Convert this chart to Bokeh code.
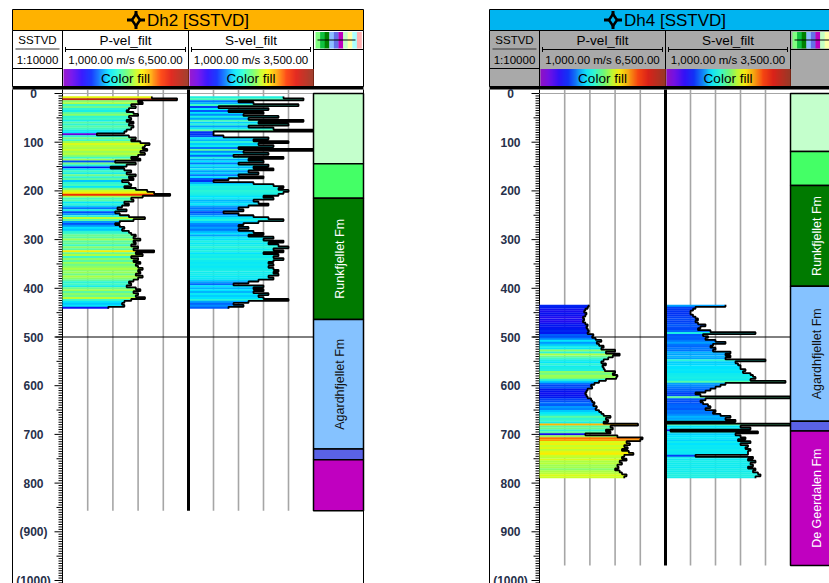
import numpy as np
from bokeh.plotting import figure
from bokeh.models import Range1d, ColumnDataSource
from bokeh.transform import linear_cmap
from bokeh.core.properties import value
from bokeh.embed import file_html
from bokeh.resources import INLINE

FONT = value("Liberation Sans")

# ---------------- log samples (SSTVD in m, velocities in m/s) ----------------
STEP = 4.0

dh2_first_depth = 8.0
dh2_p_vel = [
    4900, 6000, 4300, 4500, 4000, 4200, 3900, 3800, 4100, 4300,
    3900, 4000, 3800, 4100, 3900, 4100, 4000, 3800, 3700, 2500,
    3900, 4200, 4000, 4400, 4800, 4600, 4500, 4700, 4400, 4600,
    4300, 4000, 4400, 3300, 4200, 3800, 3100, 3700, 4000, 3800,
    4200, 3900, 4100, 3600, 3900, 4000, 3700, 4200, 4700, 5000,
    5700, 4500, 4000, 4100, 3700, 3900, 3600, 3400, 3800, 3300,
    3500, 3900, 4600, 4100, 3500, 3300, 3500, 3700, 3600, 3900,
    4000, 4200, 4100, 4400, 4100, 4200, 4000, 4300, 4100, 5000,
    4200, 4500, 4000, 4300, 4100, 4400, 4200, 4300, 4500, 4300,
    4400, 4200, 4500, 4300, 4100, 3900, 4000, 3800, 4200, 4400,
    4100, 4300, 4200, 4600, 4000, 3700, 3600, 3700, 3000,
]
dh2_s_vel = [
    2900, 3300, 2000, 2300, 3200, 1600, 2600, 1800, 2500, 2100,
    2800, 2200, 3300, 2400, 3000, 2200, 2700, 3500, 1500, 1500,
    1700, 2600, 2300, 3000, 2400, 2700, 2000, 3500, 2100, 2600,
    1900, 2900, 2200, 2500, 2000, 2600, 2300, 2700, 2200, 2400,
    2000, 2500, 1800, 1500, 2300, 2700, 2900, 2800, 3000, 2900,
    2800, 2500, 2700, 2300, 2400, 2600, 2200, 2000, 2100, 1700,
    2000, 2300, 2600, 2900, 2400, 2100, 2000, 2200, 2000, 2300,
    2500, 2200, 2700, 2500, 2900, 2600, 2800, 3000, 2700, 2900,
    2500, 2800, 2700, 2900, 2700, 2600, 2700, 2600, 2700, 2800,
    2700, 2800, 2600, 2700, 2400, 2200, 1900, 2500, 2300, 2500,
    2300, 2600, 2400, 2500, 3000, 2200, 1900, 2100, 1800,
]

dh4_first_depth = 436.0
dh4_p_vel = [
    3150, 3100, 3000, 2950, 3050, 3000, 2900, 2950, 2900, 3000,
    3100, 3050, 3100, 3150, 3100, 3350, 3300, 3450, 3700, 3500,
    3600, 3800, 3700, 4300, 3900, 4500, 4200, 4000, 3800, 3700,
    3900, 3750, 3800, 3850, 4300, 4200, 4400, 4350, 3900, 3600,
    3400, 3250, 3300, 3100, 3050, 3000, 3050, 3100, 3250, 3300,
    3400, 3350, 3500, 3450, 3600, 3700, 3800, 4100, 3900, 4000,
    3800, 5300, 4100, 4200, 3900, 4100, 3000, 4400, 5500, 5400,
    4800, 4950, 4700, 4850, 4600, 4900, 5100, 4700, 4600, 4800,
    4500, 4600, 4400, 4450, 4300, 4500, 4600, 4800, 4700,
]
dh4_s_vel = [
    2200, 1600, 1550, 1500, 1500, 1550, 1600, 1650, 1600, 1650,
    1800, 1700, 1650, 1900, 2800, 1750, 1850, 1800, 2000, 2200,
    1950, 1900, 2000, 1950, 2300, 2200, 2300, 2200, 3000, 2400,
    2450, 2500, 2500, 2600, 2550, 2700, 2750, 2800, 2700, 3400,
    2200, 2100, 2000, 1900, 1800, 1600, 1700, 3500, 1800, 1700,
    1750, 1850, 1900, 1800, 2000, 1950, 2100, 2300, 2200, 2400,
    1000, 3500, 2500, 2700, 1100, 2850, 2400, 2500, 2600, 2450,
    2700, 2500, 2650, 2600, 2700, 2650, 2650, 1600, 2750, 2650,
    2800, 2700, 2750, 2650, 2800, 2750, 2850, 2900, 2800,
]

dh2_td = 857
dh4_td = 969

# formation zones: top, base, name
fm_colors = ["#C4FFCC", "#44FF66", "#007A00", "#85C2FF", "#5A62E6", "#C000C0"]
fm_text_colors = ["black", "black", "white", "#111111", "white", "white"]
dh2_fm_tops = [0, 144, 215, 464, 730, 752]
dh2_fm_bases = [144, 215, 464, 730, 752, 857]
dh2_fm_names = ["", "", "Runkfjellet Fm", "Agardhfjellet Fm", "", ""]
dh4_fm_tops = [0, 119, 189, 396, 673, 693]
dh4_fm_bases = [119, 189, 396, 673, 693, 969]
dh4_fm_names = ["", "", "Runkfjellet Fm", "Agardhfjellet Fm", "", "De Geerdalen Fm"]

depth_label_values = [0, 100, 200, 300, 400, 500, 600, 700, 800, 900, 1000]
dh2_depth_labels = ["0", "100", "200", "300", "400", "500", "600", "700", "800", "(900)", "(1000)"]
dh4_depth_labels = ["0", "100", "200", "300", "400", "500", "600", "700", "800", "900", "(1000)"]

p_scale = (1000.0, 6500.0)
s_scale = (1000.0, 3500.0)
p_grid = [2100, 3200, 4300, 5400]
s_grid = [1500, 2000, 2500, 3000]
p_color_limits = (2300.0, 6200.0)
s_color_limits = (-400.0, 7930.0)


def build_palette(stop_t, stop_rgb, n=256):
    t = np.linspace(0, 1, n)
    chans = [np.interp(t, stop_t, [c[i] for c in stop_rgb]) for i in range(3)]
    return ["#%02x%02x%02x" % (int(r), int(g), int(b)) for r, g, b in zip(*chans)]


# rainbow shown in the "Color fill" header bars
HEADER_PALETTE = build_palette(
    [0.0, 0.06, 0.14, 0.22, 0.29, 0.36, 0.43, 0.5, 0.57, 0.63, 0.7, 0.78, 0.86, 1.0],
    [(140, 0, 200), (110, 0, 235), (40, 0, 255), (0, 40, 255), (0, 130, 255),
     (0, 230, 255), (40, 255, 210), (100, 255, 120), (190, 255, 40), (255, 240, 0),
     (255, 170, 0), (255, 60, 0), (225, 20, 10), (150, 45, 25)])
# colour table used for the curve fills
FILL_PALETTE = build_palette(
    [0.0, 0.1, 0.2, 0.28, 0.35, 0.43, 0.53, 0.63, 0.72, 0.8, 0.88, 1.0],
    [(140, 0, 200), (70, 0, 240), (0, 20, 240), (0, 110, 255), (0, 230, 255),
     (60, 250, 200), (150, 255, 90), (210, 255, 30), (255, 235, 0), (255, 150, 0),
     (240, 40, 0), (150, 45, 25)])

icon_colors = ["#80FF80", "#10C040", "#008000", "#8CBEFF", "#6470E6", "#BE00BE",
               "#C4FFC4", "#FFFFA8", "#AAFFFF", "#FFB0B0"]

# ---------------- canvas ----------------
W, H = 829, 583
Y_DEPTH0 = 93.0
PX_PER_M = 0.487

p = figure(width=W, height=H, output_backend="svg", toolbar_location=None, tools="",
           x_range=Range1d(0, W), y_range=Range1d(H, 0),
           x_axis_location=None, y_axis_location=None, min_border=0,
           outline_line_color=None, background_fill_color="white",
           border_fill_color="white")
p.grid.visible = False

ranges_x = {}
ranges_y = {"depth": Range1d(start=(H - Y_DEPTH0) / PX_PER_M, end=-Y_DEPTH0 / PX_PER_M)}


def track_range(px_left, px_right, lo, hi):
    per = (hi - lo) / (px_right - px_left)
    return Range1d(start=lo - px_left * per, end=lo + (W - px_left) * per)


def txt(x, y, s, size, color="black", align="center", **kw):
    p.text(x=[x], y=[y], text=[s], text_font=FONT, text_font_size=size,
           text_color=color, text_align=align, text_baseline="middle", **kw)


def draw_panel(key, left, title, title_fill, head_fill, first_depth, p_vel, s_vel, td,
               fm_tops, fm_bases, fm_names, depth_labels):
    d_l, p_l, s_l, f_l, right = left, left + 50, left + 176, left + 301, left + 351
    cx = (left + right) / 2
    pr, sr = "p" + key, "s" + key
    ranges_x[pr] = track_range(p_l, s_l, *p_scale)
    ranges_x[sr] = track_range(s_l, f_l, *s_scale)

    # title bar
    p.quad(left=left, right=right, top=9, bottom=30, fill_color=title_fill,
           line_color="black", line_width=1)
    p.scatter([cx - 52], [19.5], marker="cross", size=18, line_width=3, line_color="black")
    p.scatter([cx - 52], [19.5], marker="diamond", size=12, fill_color=title_fill,
              line_color="black", line_width=2.5)
    txt(cx - 41, 20, title, "17px", align="left")

    # header block
    p.quad(left=left, right=right, top=30, bottom=86, fill_color=head_fill,
           line_color="black", line_width=1)
    p.segment(x0=[p_l, s_l, f_l], y0=[30] * 3, x1=[p_l, s_l, f_l], y1=[86] * 3,
              line_color="black", line_width=1)
    txt((d_l + p_l) / 2, 39.5, "SSTVD", "11.5px")
    p.segment(x0=[d_l + 3], y0=[48.5], x1=[p_l - 3], y1=[48.5], line_color="#333333")
    txt((d_l + p_l) / 2, 59, "1:10000", "11.5px")
    p.segment(x0=[d_l], y0=[68], x1=[p_l], y1=[68], line_color="black")

    for l, r, name, (lo, hi) in ((p_l, s_l, "P-vel_filt", p_scale), (s_l, f_l, "S-vel_filt", s_scale)):
        mid = (l + r) / 2
        txt(mid, 40, name, "13.5px")
        p.segment(x0=[l + 3, l + 3, r - 3], y0=[49, 46.5, 46.5], x1=[r - 3, l + 3, r - 3],
                  y1=[49, 51.5, 51.5], line_color="black", line_width=1)
        txt(mid, 59.5, f"{lo:,.2f} m/s {hi:,.2f}", "11.5px")
        n = int(r - l - 1)
        xs = l + 1 + np.arange(n)
        cols = [HEADER_PALETTE[int(i / (n - 1) * 255)] for i in range(n)]
        p.quad(left=xs, right=xs + 1.3, top=68.5, bottom=86, fill_color=cols, line_color=None)
        txt(mid, 78, "Color fill", "13.5px")

    # formation legend icon
    iw = (right - f_l - 4) / len(icon_colors)
    ix = f_l + 2 + iw * np.arange(len(icon_colors))
    p.quad(left=ix, right=ix + iw + 0.3, top=31.5, bottom=48, fill_color=icon_colors, line_color=None)
    p.segment(x0=[f_l + 4], y0=[39.5], x1=[right - 8], y1=[39.5], line_color="black", line_width=1.2)
    p.segment(x0=[f_l], y0=[49], x1=[right], y1=[49], line_color="black")

    p.quad(left=left, right=right, top=85.5, bottom=89, fill_color="black", line_color=None)

    # panel borders and depth scale
    p.segment(x0=[left, right, p_l], y0=[89] * 3, x1=[left, right, p_l], y1=[H] * 3,
              line_color="black", line_width=1)
    tick_d = np.arange(0, 1011, 5)
    tick_len = np.where(tick_d % 100 == 0, 8, np.where(tick_d % 50 == 0, 6, 4))
    p.segment(x0=p_l - tick_len, y0=tick_d, x1=np.full(len(tick_d), p_l), y1=tick_d,
              y_range_name="depth", line_color="black", line_width=1)
    p.text(x=[d_l + 21] * len(depth_labels), y=depth_label_values, text=depth_labels,
           y_range_name="depth", text_font=FONT, text_font_size="12px", text_font_style="bold",
           text_color="#27304a", text_align="center", text_baseline="middle")

    # track grids
    for rng, grid, (lo, hi) in ((pr, p_grid, p_scale), (sr, s_grid, s_scale)):
        p.segment(x0=grid, y0=[-7] * len(grid), x1=grid, y1=[td] * len(grid),
                  x_range_name=rng, y_range_name="depth", line_color="#A6A6A6", line_width=1.6)
        p.segment(x0=[lo], y0=[0], x1=[hi], y1=[0], x_range_name=rng, y_range_name="depth",
                  line_color="#A6A6A6", line_width=1)
    p.segment(x0=[p_l - 7], y0=[500], x1=[f_l], y1=[500], y_range_name="depth",
              line_color="black", line_width=1)

    # colour-filled velocity curves (each sample holds its value over its depth bin)
    half = STEP * 0.5
    for vel, rng, (lo, hi), lim in ((p_vel, pr, p_scale, p_color_limits),
                                    (s_vel, sr, s_scale, s_color_limits)):
        v = np.array(vel, dtype=float)
        d = first_depth + STEP * np.arange(len(v))
        src = ColumnDataSource(dict(d=d, v=v, top=d - half * 1.12, bot=d + half * 1.12))
        p.quad(left=lo, right="v", top="top", bottom="bot", source=src,
               fill_color=linear_cmap("v", FILL_PALETTE, lim[0], lim[1]), line_color=None,
               x_range_name=rng, y_range_name="depth")
        step_src = ColumnDataSource(dict(v=np.repeat(v, 2),
                                         d=np.column_stack([d - half, d + half]).ravel()))
        p.line(x="v", y="d", source=step_src, line_color="black", line_width=1.8,
               x_range_name=rng, y_range_name="depth")

    # P / S track divider
    p.segment(x0=[s_l], y0=[-8], x1=[s_l], y1=[td], y_range_name="depth",
              line_color="black", line_width=3)

    # formation track
    p.quad(left=f_l, right=right, top=fm_tops, bottom=fm_bases, fill_color=fm_colors,
           line_color="black", line_width=1.5, y_range_name="depth")
    lab = [(0.5 * (t + b), nm, c) for t, b, nm, c in zip(fm_tops, fm_bases, fm_names, fm_text_colors) if nm]
    p.text(x=[(f_l + right) / 2 + 1] * len(lab), y=[a[0] for a in lab], text=[a[1] for a in lab],
           text_color=[a[2] for a in lab], angle=np.pi / 2, y_range_name="depth",
           text_font=FONT, text_font_size="12.5px", text_align="center", text_baseline="middle")


draw_panel("1", 12, "Dh2 [SSTVD]", "#FFB200", "white", dh2_first_depth, dh2_p_vel, dh2_s_vel,
           dh2_td, dh2_fm_tops, dh2_fm_bases, dh2_fm_names, dh2_depth_labels)
draw_panel("2", 489, "Dh4 [SSTVD]", "#00B4F0", "#A9A9A9", dh4_first_depth, dh4_p_vel, dh4_s_vel,
           dh4_td, dh4_fm_tops, dh4_fm_bases, dh4_fm_names, dh4_depth_labels)

p.extra_x_ranges = ranges_x
p.extra_y_ranges = ranges_y

open("out.html", "w").write(file_html(p, INLINE))
